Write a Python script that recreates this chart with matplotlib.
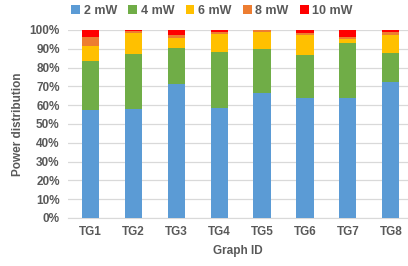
import matplotlib

matplotlib.use("Agg")

import matplotlib.pyplot as plt
import numpy as np
from matplotlib.ticker import PercentFormatter

GRAPHS = ["TG1", "TG2", "TG3", "TG4", "TG5", "TG6", "TG7", "TG8"]
POWER_LEVELS = ["2 mW", "4 mW", "6 mW", "8 mW", "10 mW"]

# share of each power level per graph, in percent
P2 = [57.5, 57.9, 71.4, 58.7, 66.5, 64.0, 64.0, 72.2]
P4 = [26.2, 29.2, 19.1, 29.4, 23.6, 22.9, 28.9, 15.4]
P6 = [7.8, 11.5, 5.5, 9.8, 8.7, 10.5, 2.3, 9.9]
P8 = [5.0, 1.1, 1.2, 1.2, 1.2, 1.2, 1.2, 1.2]
P10 = [3.5, 0.3, 2.7, 0.9, 0.0, 1.4, 3.5, 1.2]

COLORS = ["#5B9BD5", "#70AD47", "#FFC000", "#ED7D31", "#FF0000"]
TEXT_COLOR = "#595959"

plt.rcParams["font.family"] = ["Liberation Sans", "DejaVu Sans"]
plt.rcParams["font.weight"] = "bold"

fig = plt.figure(figsize=(4.08, 2.66), dpi=100)
ax = fig.add_axes([68 / 408, 48 / 266, 340 / 408, 188 / 266])

x = np.arange(len(GRAPHS))
bottom = np.zeros(len(GRAPHS))
for label, values, color in zip(POWER_LEVELS, [P2, P4, P6, P8, P10], COLORS):
    vals = np.array(values) / 100.0
    ax.bar(x, vals, width=0.4, bottom=bottom, color=color, label=label, zorder=3)
    bottom += vals

ax.set_ylim(0, 1)
ax.set_xlim(-0.52, 7.4)
ax.set_yticks(np.arange(0, 1.01, 0.1))
ax.yaxis.set_major_formatter(PercentFormatter(1.0, decimals=0))
ax.set_xticks(x)
ax.set_xticklabels(GRAPHS)
ax.tick_params(axis="both", length=0, labelsize=8.5, colors=TEXT_COLOR, pad=6)
ax.grid(axis="y", color="#D9D9D9", linewidth=0.9, zorder=0)

for side in ["top", "right", "left"]:
    ax.spines[side].set_visible(False)
ax.spines["bottom"].set_color("#D9D9D9")

ax.set_ylabel("Power distribution", fontsize=8.5, fontweight="bold", color=TEXT_COLOR, labelpad=4)
ax.set_xlabel("Graph ID", fontsize=8.5, fontweight="bold", color=TEXT_COLOR, labelpad=5)

ax.legend(
    loc="upper center",
    bbox_to_anchor=(212 / 408, 1.0),
    bbox_transform=fig.transFigure,
    ncol=5,
    frameon=False,
    fontsize=9,
    handlelength=0.7,
    handleheight=0.7,
    handletextpad=0.3,
    columnspacing=0.9,
    labelcolor=TEXT_COLOR,
    borderaxespad=0.0,
)

fig.savefig("out.png", dpi=100)
plt.close(fig)
